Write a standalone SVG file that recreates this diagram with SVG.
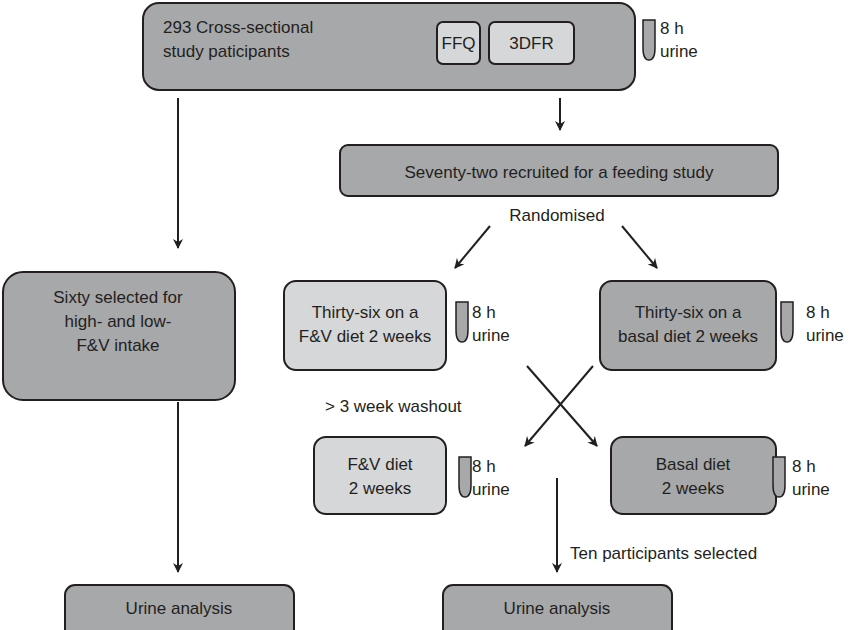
<svg xmlns="http://www.w3.org/2000/svg" width="850" height="630" viewBox="0 0 850 630">
<style>
text{font-family:"Liberation Sans",Arial,sans-serif;font-size:17px;fill:#231f20}
.d{fill:#a7a8aa;stroke:#231f20;stroke-width:2}
.l{fill:#d6d7d8;stroke:#231f20;stroke-width:2}
.t{fill:#a7a8aa;stroke:#231f20;stroke-width:1.5}
.c{stroke:#231f20;stroke-width:2;fill:none;marker-end:url(#a)}
.m{text-anchor:middle}
</style>
<defs>
<marker id="a" markerWidth="10" markerHeight="10" refX="9" refY="5" orient="auto" markerUnits="userSpaceOnUse"><path d="M0,0 L10,5 L0,10 L3,5 Z" fill="#231f20"/></marker>
<path id="tube" d="M0,0 H12 V28 Q12,40 6,40 Q0,40 0,28 Z"/>
</defs>
<g id="connectors">
<line class="c" x1="178" y1="98" x2="178" y2="248"/>
<line class="c" x1="560" y1="98" x2="560" y2="130"/>
<line class="c" x1="490" y1="226" x2="455" y2="268"/>
<line class="c" x1="622" y1="226" x2="657" y2="268"/>
<line class="c" x1="593" y1="366" x2="525" y2="446"/>
<line class="c" x1="527" y1="366" x2="597" y2="446"/>
<line class="c" x1="557" y1="478" x2="557" y2="572"/>
<line class="c" x1="178" y1="402" x2="178" y2="572"/>
</g>
<g id="top">
<rect class="d" x="143" y="3" width="492" height="87" rx="16"/>
<text x="163" y="33">293 Cross-sectional</text><text x="163" y="57">study paticipants</text>
<rect class="l" x="437" y="22" width="43" height="42" rx="6"/><text class="m" x="458.5" y="49">FFQ</text>
<rect class="l" x="489" y="22" width="85" height="42" rx="6"/><text class="m" x="531.5" y="49">3DFR</text>
<use href="#tube" class="t" x="643" y="20"/><text x="660" y="34">8 h</text><text x="660" y="57">urine</text>
</g>
<g id="recruit"><rect class="d" x="340" y="145" width="438" height="51" rx="8"/><text class="m" x="559" y="178">Seventy-two recruited for a feeding study</text></g>
<text class="m" x="557" y="221">Randomised</text>
<g id="sixty"><rect class="d" x="3" y="272" width="232" height="128" rx="20"/>
<text class="m" x="118" y="303">Sixty selected for</text><text class="m" x="118" y="327">high- and low-</text><text class="m" x="118" y="351">F&amp;V intake</text></g>
<g id="fv1"><rect class="l" x="284" y="281" width="162" height="89" rx="12"/>
<text class="m" x="365" y="318">Thirty-six on a</text><text class="m" x="365" y="342">F&amp;V diet 2 weeks</text>
<use href="#tube" class="t" x="456" y="302"/><text x="472" y="318">8 h</text><text x="472" y="341">urine</text></g>
<g id="basal1"><rect class="d" x="600" y="281" width="176" height="89" rx="12"/>
<text class="m" x="688" y="318">Thirty-six on a</text><text class="m" x="688" y="342">basal diet 2 weeks</text>
<use href="#tube" class="t" x="781" y="302"/><text x="806" y="318">8 h</text><text x="806" y="341">urine</text></g>
<text x="325" y="412">&gt; 3 week washout</text>
<g id="fv2"><rect class="l" x="314" y="437" width="132" height="77" rx="12"/>
<text class="m" x="380" y="470">F&amp;V diet</text><text class="m" x="380" y="494">2 weeks</text>
<use href="#tube" class="t" x="459" y="457"/><text x="472" y="472">8 h</text><text x="472" y="495">urine</text></g>
<g id="basal2"><rect class="d" x="611" y="437" width="165" height="77" rx="12"/>
<text class="m" x="693" y="470">Basal diet</text><text class="m" x="693" y="494">2 weeks</text>
<use href="#tube" class="t" x="773" y="457"/><text x="792" y="472">8 h</text><text x="792" y="495">urine</text></g>
<text x="570" y="559">Ten participants selected</text>
<g id="ua1"><rect class="d" x="65" y="585" width="229" height="55" rx="10"/><text class="m" x="179" y="614">Urine analysis</text></g>
<g id="ua2"><rect class="d" x="443" y="585" width="229" height="55" rx="10"/><text class="m" x="557" y="614">Urine analysis</text></g>
</svg>
